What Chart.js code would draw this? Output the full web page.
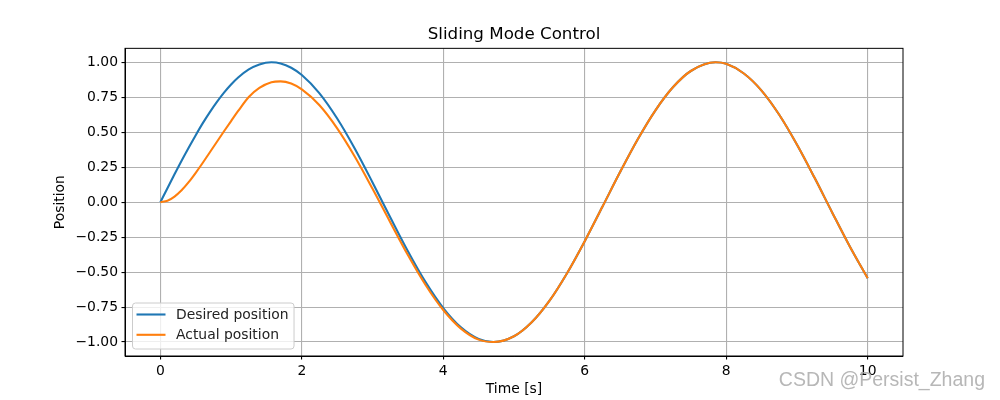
<!DOCTYPE html>
<html>
<head>
<meta charset="utf-8">
<script src="https://cdn.jsdelivr.net/npm/chart.js@4.4.0/dist/chart.umd.min.js"></script>
<style>
  html, body { margin: 0; padding: 0; background: #fff; }
  #wrap { width: 1000px; height: 400px; }
</style>
</head>
<body>
<div id="wrap"><canvas id="chart"></canvas></div>
<script>
// tiempos (s)
const times = [0, 0.1, 0.2, 0.3, 0.4, 0.5, 0.6, 0.7, 0.8, 0.9, 1, 1.1, 1.25, 1.4, 1.57, 1.7, 1.85,
  2, 2.25, 2.5, 2.75, 3, 3.25, 3.5, 3.75,
  4, 4.25, 4.5, 4.71, 5, 5.25, 5.5, 5.75, 6, 6.25, 6.5, 6.75, 7, 7.25, 7.5, 7.85,
  8, 8.25, 8.5, 8.75, 9, 9.25, 9.5, 9.75, 10];

// posición deseada
const desired = [0, 0.100, 0.199, 0.296, 0.389, 0.479, 0.565, 0.644, 0.717, 0.783, 0.841, 0.891,
  0.949, 0.985, 1.0, 0.992, 0.961,
  0.909, 0.778, 0.598, 0.382, 0.141, -0.108, -0.351, -0.572,
  -0.757, -0.895, -0.978, -1.0, -0.959, -0.859, -0.706, -0.508,
  -0.279, -0.033, 0.215, 0.450, 0.657, 0.823, 0.938, 1.0,
  0.989, 0.920, 0.798, 0.625, 0.412, 0.174, -0.075, -0.319, -0.544];

const actual = [0, 0.010, 0.040, 0.085, 0.143, 0.210, 0.282, 0.357, 0.432, 0.507, 0.580, 0.652,
  0.752, 0.817, 0.858, 0.864, 0.848,
  0.806, 0.693, 0.528, 0.325, 0.096, -0.143, -0.378, -0.592,
  -0.771, -0.904, -0.983, -1.0, -0.959, -0.859, -0.706, -0.508,
  -0.279, -0.033, 0.215, 0.450, 0.657, 0.823, 0.938, 1.0,
  0.989, 0.920, 0.798, 0.625, 0.412, 0.174, -0.075, -0.319, -0.544];

const xTicks = [0, 2, 4, 6, 8, 10];
const yTicks = [-1, -0.75, -0.5, -0.25, 0, 0.25, 0.5, 0.75, 1];

const FONT = 'DejaVu Sans';

// --- marco superior/derecho, leyenda y marca de agua ---
const extras = {
  id: 'extras',
  afterDatasetsDraw(chart) {
    const { ctx, chartArea: a } = chart;
    ctx.save();
    // leyenda
    const fs = 13.9;
    ctx.font = fs + 'px "' + FONT + '"';
    const sets = chart.data.datasets;
    const textW = Math.max(...sets.map(d => ctx.measureText(d.label).width));
    const bx = a.left + 7.5, bh = 46;
    const by = a.bottom - 7 - bh;
    const bw = 43.5 + textW + 5.5;
    ctx.beginPath();
    ctx.roundRect(bx, by, bw, bh, 3);
    ctx.fillStyle = 'rgba(255,255,255,0.8)';
    ctx.fill();
    ctx.strokeStyle = '#cccccc';
    ctx.lineWidth = 1;
    ctx.stroke();
    sets.forEach((d, i) => {
      const y = by + 11.5 + i * 20.3;
      ctx.beginPath();
      ctx.moveTo(bx + 4, y);
      ctx.lineTo(bx + 33, y);
      ctx.strokeStyle = d.borderColor;
      ctx.lineWidth = 2.1;
      ctx.stroke();
      ctx.fillStyle = '#222';
      ctx.textBaseline = 'middle';
      ctx.textAlign = 'left';
      ctx.fillText(d.label, bx + 43.5, y + 0.5);
    });
    // marco
    ctx.strokeStyle = '#000';
    ctx.lineWidth = 1;
    ctx.strokeRect(a.left, a.top, a.right - a.left, a.bottom - a.top);
    ctx.restore();
  },
  afterDraw(chart) {
    const ctx = chart.ctx;
    ctx.save();
    ctx.font = '19.5px "Liberation Sans"';
    ctx.fillStyle = 'rgba(170,170,170,0.85)';
    ctx.textAlign = 'right';
    ctx.textBaseline = 'middle';
    ctx.fillText('CSDN @Persist_Zhang', 985, 381);
    ctx.restore();
  }
};

const ctx = document.getElementById('chart');
new Chart(ctx, {
  type: 'line',
  data: {
    datasets: [
      {
        label: 'Desired position',
        data: times.map((t, i) => ({ x: t, y: desired[i] })),
        borderColor: '#1f77b4',
        borderWidth: 2.1,
        pointRadius: 0,
        cubicInterpolationMode: 'monotone',
        order: 2,
        fill: false
      },
      {
        label: 'Actual position',
        data: times.map((t, i) => ({ x: t, y: actual[i] })),
        borderColor: '#ff7f0e',
        borderWidth: 2.1,
        pointRadius: 0,
        cubicInterpolationMode: 'monotone',
        order: 1,
        fill: false
      }
    ]
  },
  options: {
    responsive: true,
    maintainAspectRatio: false,
    animation: false,
    layout: { padding: { top: 25, right: 97, bottom: 0, left: 0 } },
    plugins: {
      legend: { display: false },
      tooltip: { enabled: false },
      title: {
        display: true,
        text: 'Sliding Mode Control',
        fullSize: false,
        color: '#000',
        font: { family: FONT, size: 16.7, weight: 'normal', lineHeight: 1.2 },
        padding: { top: 0, bottom: 3.3 }
      }
    },
    scales: {
      x: {
        type: 'linear',
        min: -0.5,
        max: 10.5,
        afterBuildTicks: s => { s.ticks = xTicks.map(v => ({ value: v })); },
        afterFit: s => { s.height = 44; },
        grid: { color: '#b0b0b0', lineWidth: 1.1, tickLength: 3.5, tickColor: '#000' },
        border: { color: '#000', width: 1 },
        ticks: { color: '#000', padding: 3.5, maxRotation: 0, font: { family: FONT, size: 13.9 },
          callback: v => String(v) },
        title: { display: true, text: 'Time [s]', color: '#000', padding: { top: 0, bottom: 2 },
          font: { family: FONT, size: 13.9, lineHeight: 1.2 } }
      },
      y: {
        min: -1.1,
        max: 1.1,
        afterBuildTicks: s => { s.ticks = yTicks.map(v => ({ value: v })); },
        afterFit: s => { s.width = 125; },
        grid: { color: '#b0b0b0', lineWidth: 1.1, tickLength: 3.5, tickColor: '#000' },
        border: { color: '#000', width: 1 },
        ticks: { color: '#000', padding: 3.5, font: { family: FONT, size: 13.9 },
          callback: v => (v < 0 ? '\u2212' : '') + Math.abs(v).toFixed(2) },
        title: { display: true, text: 'Position', color: '#000', padding: { top: 51.7, bottom: 0 },
          font: { family: FONT, size: 13.9, lineHeight: 1.2 } }
      }
    }
  },
  plugins: [extras]
});
</script>
</body>
</html>
